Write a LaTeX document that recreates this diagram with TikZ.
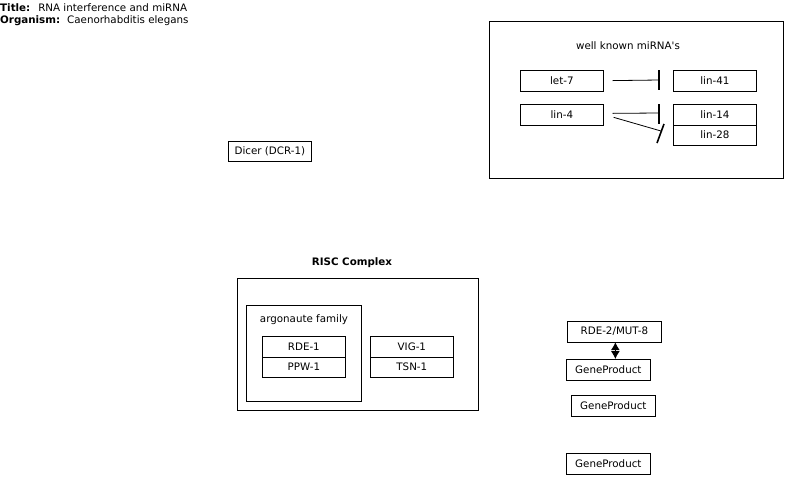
\documentclass[tikz,border=0pt]{standalone}
\usepackage{fontspec}
\setmainfont{DejaVu Sans}
\usetikzlibrary{arrows.meta}
\begin{document}
\begin{tikzpicture}[x=1pt,y=-1pt,
  every node/.style={font=\fontsize{10.3}{12}\selectfont, inner sep=0pt},
  gbox/.style={draw, line width=0.7pt, minimum width=83pt, minimum height=20.5pt, anchor=north west},
  frame/.style={draw, line width=0.7pt},
  inh/.style={line width=0.8pt},
  bar/.style={line width=1.6pt}]
\useasboundingbox (0,0) rectangle (798,488);
% title
\node[anchor=west] (title) at (0,8) {\textbf{Title:}\hspace{8pt}RNA interference and miRNA};
\node[anchor=west] (org) at (0,21) {\textbf{Organism:}\hspace{7pt}Caenorhabditis elegans};
% miRNA group
\draw[frame] (489,21.5) rectangle (783,178);
\node (wk) at (628,46) {well known miRNA\textquotesingle s};
\node[gbox] (let7) at (520,70) {let-7};
\node[gbox] (lin41) at (673,70) {lin-41};
\node[gbox] (lin4) at (520,104) {lin-4};
\node[gbox] (lin14) at (673,104) {lin-14};
\node[gbox] (lin28) at (673,124.5) {lin-28};
\coordinate (b1) at (659,80);
\coordinate (b2) at (659,113);
\coordinate (b3) at (661,131);
\draw[inh] ([xshift=9pt]let7.east) -- (b1);
\draw[bar] (659,70) -- (659,90);
\draw[inh] ([xshift=9pt,yshift=1.25pt]lin4.east) -- (b2);
\draw[bar] (659,104) -- (659,123.5);
\draw[inh] ([xshift=10pt,yshift=-2.75pt]lin4.east) -- (b3);
\draw[bar] (657,143) -- (664,124);
% Dicer
\node[gbox] (dicer) at (228,140.5) {Dicer (DCR-1)};
% RISC
\node (risclbl) at (352,263) {\textbf{RISC Complex}};
\draw[frame] (237,278) rectangle (478,410);
\draw[frame] (246,305) rectangle (361,401);
\node (argo) at (304,320) {argonaute family};
\node[gbox] (rde1) at (262,336) {RDE-1};
\node[gbox] (ppw1) at (262,356.5) {PPW-1};
\node[gbox] (vig1) at (370,336) {VIG-1};
\node[gbox] (tsn1) at (370,356.5) {TSN-1};
% right genes
\node[gbox, minimum width=94pt] (rde2) at (567,321) {RDE-2/MUT-8};
\node[gbox, minimum width=84pt] (gp1) at (566,359) {GeneProduct};
\node[gbox, minimum width=84pt] (gp2) at (571,395) {GeneProduct};
\node[gbox, minimum width=84pt] (gp3) at (566,453) {GeneProduct};
\draw[line width=1pt, {Latex[length=8pt,width=9pt]}-{Latex[length=8pt,width=9pt]}] ([xshift=1pt]rde2.south) -- ([xshift=7pt]gp1.north);
\end{tikzpicture}
\end{document}
